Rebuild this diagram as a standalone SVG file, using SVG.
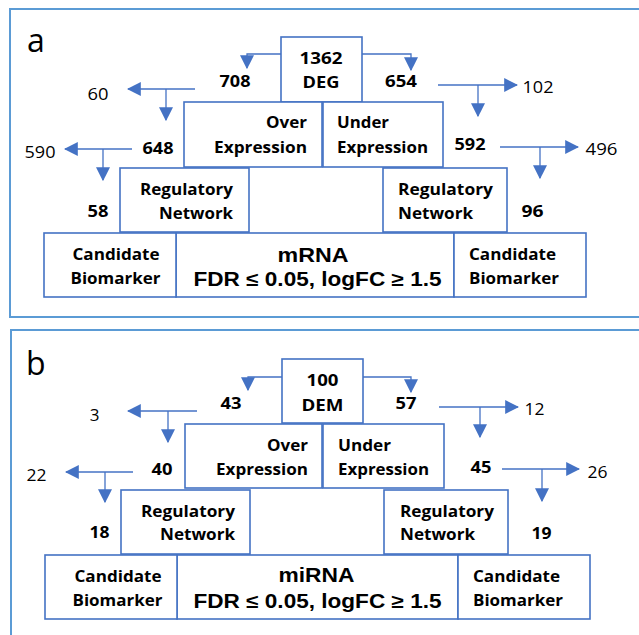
<svg xmlns="http://www.w3.org/2000/svg" width="639" height="635" viewBox="0 0 639 635">
<defs>
<marker id="ah" markerUnits="userSpaceOnUse" markerWidth="14" markerHeight="14" viewBox="0 0 12 12" refX="11" refY="6" orient="auto">
<path d="M0,0 L12,6 L0,12 Z" fill="#4472C4"/>
</marker>
<style>
.panel{fill:none;stroke:#5B9BD5;stroke-width:2}
.box{fill:#fff;stroke:#4472C4;stroke-width:1.6}
.cn{fill:none;stroke:#4472C4;stroke-width:1.3;marker-end:url(#ah)}
text{font-family:"Open Sans","Liberation Sans",sans-serif;fill:#000}
.b{font-weight:bold;font-size:16.5px}
.n{font-size:17px}
.big{font-family:"Liberation Sans",Arial,sans-serif;font-weight:bold;font-size:19.5px}
.lab{font-size:32px}
.m{text-anchor:middle}
.e{text-anchor:end}
</style>
</defs>

<!-- Panel a -->
<g id="panel-a">
<rect class="panel" x="10" y="9" width="640" height="308"/>
<text class="lab" x="27" y="52">a</text>
</g>
<g id="a-deg"><rect class="box" x="281" y="37" width="81" height="65"/><text class="b m" x="321" y="64" textLength="43" lengthAdjust="spacingAndGlyphs">1362</text><text class="b m" x="321" y="88" textLength="37" lengthAdjust="spacingAndGlyphs">DEG</text></g>
<g id="a-over"><rect class="box" x="184" y="102" width="138" height="65"/><text class="b e" x="307" y="128" textLength="41" lengthAdjust="spacingAndGlyphs">Over</text><text class="b e" x="307" y="153" textLength="93" lengthAdjust="spacingAndGlyphs">Expression</text></g>
<g id="a-under"><rect class="box" x="323" y="102" width="120" height="65"/><text class="b" x="337" y="128" textLength="52" lengthAdjust="spacingAndGlyphs">Under</text><text class="b" x="337" y="153" textLength="91" lengthAdjust="spacingAndGlyphs">Expression</text></g>
<g id="a-reg-l"><rect class="box" x="120" y="168" width="129" height="64"/><text class="b e" x="233" y="195" textLength="93" lengthAdjust="spacingAndGlyphs">Regulatory</text><text class="b e" x="233" y="219" textLength="74" lengthAdjust="spacingAndGlyphs">Network</text></g>
<g id="a-reg-r"><rect class="box" x="383" y="168" width="124" height="64"/><text class="b" x="398" y="195" textLength="95" lengthAdjust="spacingAndGlyphs">Regulatory</text><text class="b" x="398" y="219" textLength="75" lengthAdjust="spacingAndGlyphs">Network</text></g>
<g id="a-mrna"><rect class="box" x="176" y="233" width="278" height="64"/><text class="big m" x="313" y="262" textLength="71" lengthAdjust="spacingAndGlyphs">mRNA</text><text class="big m" x="317.5" y="286" textLength="248" lengthAdjust="spacingAndGlyphs">FDR ≤ 0.05, logFC ≥ 1.5</text></g>
<g id="a-cand-l"><rect class="box" x="44" y="233" width="132" height="64"/><text class="b m" x="116" y="260" textLength="87" lengthAdjust="spacingAndGlyphs">Candidate</text><text class="b m" x="115.5" y="284" textLength="90" lengthAdjust="spacingAndGlyphs">Biomarker</text></g>
<g id="a-cand-r"><rect class="box" x="454" y="233" width="132" height="64"/><text class="b" x="469" y="260" textLength="87" lengthAdjust="spacingAndGlyphs">Candidate</text><text class="b" x="469" y="284" textLength="90" lengthAdjust="spacingAndGlyphs">Biomarker</text></g>
<g id="a-numbers">
<text class="b m" x="235" y="87" textLength="31" lengthAdjust="spacingAndGlyphs">708</text>
<text class="b m" x="401" y="87" textLength="32" lengthAdjust="spacingAndGlyphs">654</text>
<text class="n m" x="98" y="100" textLength="21" lengthAdjust="spacingAndGlyphs">60</text>
<text class="n m" x="538" y="93" textLength="31" lengthAdjust="spacingAndGlyphs">102</text>
<text class="b m" x="158" y="154" textLength="31" lengthAdjust="spacingAndGlyphs">648</text>
<text class="n m" x="40" y="158" textLength="31" lengthAdjust="spacingAndGlyphs">590</text>
<text class="b m" x="98" y="217" textLength="21" lengthAdjust="spacingAndGlyphs">58</text>
<text class="b m" x="470" y="150" textLength="31" lengthAdjust="spacingAndGlyphs">592</text>
<text class="n m" x="601.5" y="155" textLength="32" lengthAdjust="spacingAndGlyphs">496</text>
<text class="b m" x="532.5" y="217" textLength="22" lengthAdjust="spacingAndGlyphs">96</text>
</g>
<g id="a-connectors">
<path class="cn" d="M281,54 H247 V68"/>
<path class="cn" d="M362,54 H411 V70"/>
<path class="cn" d="M195,89 H128"/>
<path class="cn" d="M166,89 V120"/>
<path class="cn" d="M438,85 H517"/>
<path class="cn" d="M478,85 V116"/>
<path class="cn" d="M132,149 H65"/>
<path class="cn" d="M103,149 V180"/>
<path class="cn" d="M500,147 H578"/>
<path class="cn" d="M540,147 V178"/>
</g>

<!-- Panel b -->
<g id="panel-b">
<rect class="panel" x="11" y="330" width="640" height="320"/>
<text class="lab" x="26" y="375">b</text>
</g>
<g id="b-dem"><rect class="box" x="282" y="359" width="81" height="64"/><text class="b m" x="322.5" y="386" textLength="32" lengthAdjust="spacingAndGlyphs">100</text><text class="b m" x="322.5" y="411" textLength="42" lengthAdjust="spacingAndGlyphs">DEM</text></g>
<g id="b-over"><rect class="box" x="185" y="424" width="137" height="64"/><text class="b e" x="308" y="451" textLength="41" lengthAdjust="spacingAndGlyphs">Over</text><text class="b e" x="308" y="475" textLength="92" lengthAdjust="spacingAndGlyphs">Expression</text></g>
<g id="b-under"><rect class="box" x="323" y="424" width="121" height="64"/><text class="b" x="338" y="451" textLength="53" lengthAdjust="spacingAndGlyphs">Under</text><text class="b" x="338" y="475" textLength="91" lengthAdjust="spacingAndGlyphs">Expression</text></g>
<g id="b-reg-l"><rect class="box" x="121" y="490" width="129" height="64"/><text class="b e" x="235" y="517" textLength="94" lengthAdjust="spacingAndGlyphs">Regulatory</text><text class="b e" x="235" y="540" textLength="75" lengthAdjust="spacingAndGlyphs">Network</text></g>
<g id="b-reg-r"><rect class="box" x="384" y="490" width="124" height="64"/><text class="b" x="400" y="517" textLength="94" lengthAdjust="spacingAndGlyphs">Regulatory</text><text class="b" x="400" y="540" textLength="75" lengthAdjust="spacingAndGlyphs">Network</text></g>
<g id="b-mirna"><rect class="box" x="177" y="555" width="281" height="64"/><text class="big m" x="316.5" y="582" textLength="76" lengthAdjust="spacingAndGlyphs">miRNA</text><text class="big m" x="317.5" y="608" textLength="248" lengthAdjust="spacingAndGlyphs">FDR ≤ 0.05, logFC ≥ 1.5</text></g>
<g id="b-cand-l"><rect class="box" x="45" y="555" width="132" height="64"/><text class="b m" x="118" y="582" textLength="87" lengthAdjust="spacingAndGlyphs">Candidate</text><text class="b m" x="117.5" y="606" textLength="90" lengthAdjust="spacingAndGlyphs">Biomarker</text></g>
<g id="b-cand-r"><rect class="box" x="458" y="555" width="132" height="64"/><text class="b" x="473" y="582" textLength="87" lengthAdjust="spacingAndGlyphs">Candidate</text><text class="b" x="473" y="606" textLength="90" lengthAdjust="spacingAndGlyphs">Biomarker</text></g>
<g id="b-numbers">
<text class="b m" x="231" y="409" textLength="21" lengthAdjust="spacingAndGlyphs">43</text>
<text class="b m" x="406" y="409" textLength="21" lengthAdjust="spacingAndGlyphs">57</text>
<text class="n m" x="94.5" y="421">3</text>
<text class="n m" x="534.5" y="415" textLength="20" lengthAdjust="spacingAndGlyphs">12</text>
<text class="b m" x="162" y="475" textLength="21" lengthAdjust="spacingAndGlyphs">40</text>
<text class="n m" x="36.5" y="481" textLength="20" lengthAdjust="spacingAndGlyphs">22</text>
<text class="b m" x="99.5" y="538" textLength="20" lengthAdjust="spacingAndGlyphs">18</text>
<text class="b m" x="481" y="473" textLength="21" lengthAdjust="spacingAndGlyphs">45</text>
<text class="n m" x="597.5" y="478" textLength="20" lengthAdjust="spacingAndGlyphs">26</text>
<text class="b m" x="541.5" y="539" textLength="20" lengthAdjust="spacingAndGlyphs">19</text>
</g>
<g id="b-connectors">
<path class="cn" d="M282,377 H248 V390"/>
<path class="cn" d="M363,377 H411 V392"/>
<path class="cn" d="M197,411 H128"/>
<path class="cn" d="M168,411 V442"/>
<path class="cn" d="M439,407 H518"/>
<path class="cn" d="M480,407 V437"/>
<path class="cn" d="M133,472 H66"/>
<path class="cn" d="M105,472 V502"/>
<path class="cn" d="M502,469 H579"/>
<path class="cn" d="M542,469 V501"/>
</g>
</svg>
